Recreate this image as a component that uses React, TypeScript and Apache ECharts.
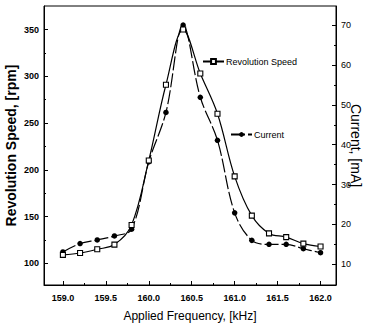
import React, { useEffect, useRef } from "react";
import * as echarts from "echarts";

const frequencies = [159.0, 159.2, 159.4, 159.6, 159.8, 160.0, 160.2, 160.4, 160.6, 160.8, 161.0, 161.2, 161.4, 161.6, 161.8, 162.0];
const revolutionSpeed = [109, 111, 115, 120, 141, 210, 291, 350, 303, 260, 193, 151, 132, 128, 121, 118];
const current = [13.1, 15.2, 16.1, 17.1, 18.8, 35.7, 48.1, 70, 51.9, 41.1, 22.9, 16, 15, 15, 13.9, 12.9];

const xMajorTicks = [159.0, 159.5, 160.0, 160.5, 161.0, 161.5, 162.0];
const xMinorTicks = [159.25, 159.75, 160.25, 160.75, 161.25, 161.75];
const speedMajorTicks = [100, 150, 200, 250, 300, 350];
const speedMinorTicks = [125, 175, 225, 275, 325];
const currentMajorTicks = [10, 20, 30, 40, 50, 60, 70];
const currentMinorTicks = [15, 25, 35, 45, 55, 65];

const FONT = "'Liberation Sans', Arial, sans-serif";

export default function App() {
  const ref = useRef<HTMLDivElement>(null);
  useEffect(() => {
    if (!ref.current) return;
    const chart = echarts.init(ref.current, null, { renderer: "svg" });
    const xMin = 158.78, xMax = 162.18;
    const sMin = 76.8, sMax = 375.2;
    const cMin = 4.8, cMax = 74.8;
    const black = "#000";
    const option: any = {
      animation: false,
      backgroundColor: "#fff",
      textStyle: { fontFamily: FONT, color: black },
      grid: {
        left: 44, right: 31, top: 6, bottom: 44,
        show: true, borderColor: black, borderWidth: 1,
        containLabel: false, outerBoundsMode: "none",
      },
      legend: [
        {
          data: ["Revolution Speed"], left: 202, top: 57, padding: 0,
          itemWidth: 21, itemHeight: 6,
          textStyle: { fontSize: 9, fontFamily: FONT, color: black, padding: [0, 0, 0, -3] },
        },
        {
          data: ["Current"], left: 230, top: 130, padding: 0,
          itemWidth: 21, itemHeight: 6,
          textStyle: { fontSize: 9, fontFamily: FONT, color: black, padding: [0, 0, 0, -3] },
        },
      ],
      xAxis: [
        {
          type: "value", min: xMin, max: xMax, position: "bottom",
          name: "Applied Frequency, [kHz]", nameLocation: "middle", nameGap: 25,
          nameMoveOverlap: false,
          nameTextStyle: { fontSize: 12, fontFamily: FONT, color: black },
          axisLine: { show: true, lineStyle: { color: black, width: 1 } },
          axisTick: { show: true, inside: true, length: 4, customValues: xMajorTicks, lineStyle: { color: black } },
          axisLabel: {
            customValues: xMajorTicks, margin: 8, fontSize: 9, fontWeight: "bold",
            fontFamily: FONT, color: black, formatter: (v: number) => v.toFixed(1),
          },
          splitLine: { show: false },
        },
        {
          type: "value", min: xMin, max: xMax, position: "bottom",
          axisLine: { show: false },
          axisTick: { show: true, inside: true, length: 2, customValues: xMinorTicks, lineStyle: { color: black } },
          axisLabel: { show: false },
          splitLine: { show: false },
        },
      ],
      yAxis: [
        {
          type: "value", min: sMin, max: sMax, position: "left",
          name: "Revolution Speed, [rpm]", nameLocation: "middle", nameGap: 26,
          nameMoveOverlap: false,
          nameTextStyle: { fontSize: 14, fontWeight: "bold", fontFamily: FONT, color: black },
          axisLine: { show: true, lineStyle: { color: black, width: 1 } },
          axisTick: { show: true, inside: true, length: 4, customValues: speedMajorTicks, lineStyle: { color: black } },
          axisLabel: { customValues: speedMajorTicks, margin: 5, fontSize: 9, fontWeight: "bold", fontFamily: FONT, color: black },
          splitLine: { show: false },
        },
        {
          type: "value", min: cMin, max: cMax, position: "right",
          name: "Current, [mA]", nameLocation: "middle", nameGap: 13, nameRotate: -90,
          nameMoveOverlap: false,
          nameTextStyle: { fontSize: 14, fontFamily: FONT, color: black },
          axisLine: { show: true, lineStyle: { color: black, width: 1 } },
          axisTick: { show: true, inside: true, length: 4, customValues: currentMajorTicks, lineStyle: { color: black } },
          axisLabel: { customValues: currentMajorTicks, margin: 5, fontSize: 9, fontFamily: FONT, color: black },
          splitLine: { show: false },
        },
        {
          type: "value", min: sMin, max: sMax, position: "left",
          axisLine: { show: false },
          axisTick: { show: true, inside: true, length: 2, customValues: speedMinorTicks, lineStyle: { color: black } },
          axisLabel: { show: false },
          splitLine: { show: false },
        },
        {
          type: "value", min: cMin, max: cMax, position: "right",
          axisLine: { show: false },
          axisTick: { show: true, inside: true, length: 2, customValues: currentMinorTicks, lineStyle: { color: black } },
          axisLabel: { show: false },
          splitLine: { show: false },
        },
      ],
      series: [
        {
          name: "Revolution Speed", type: "line", xAxisIndex: 0, yAxisIndex: 0,
          data: frequencies.map((f, i) => [f, revolutionSpeed[i]]),
          smooth: 0.35, symbol: "rect", symbolSize: 5,
          lineStyle: { color: black, width: 1.2 },
          itemStyle: { color: "#fff", borderColor: black, borderWidth: 1.1 },
          z: 3,
        },
        {
          name: "Current", type: "line", xAxisIndex: 0, yAxisIndex: 1,
          data: frequencies.map((f, i) => [f, current[i]]),
          smooth: 0.35, symbol: "circle", symbolSize: 5.5,
          lineStyle: { color: black, width: 1.2, type: [14, 3] },
          itemStyle: { color: black, borderColor: black, borderWidth: 0 },
          z: 2,
        },
      ],
    };
    chart.setOption(option);
    return () => chart.dispose();
  }, []);
  return (
    <div
      ref={ref}
      style={{ position: "fixed", left: 0, top: 0, width: 367, height: 329, background: "#fff" }}
    />
  );
}
